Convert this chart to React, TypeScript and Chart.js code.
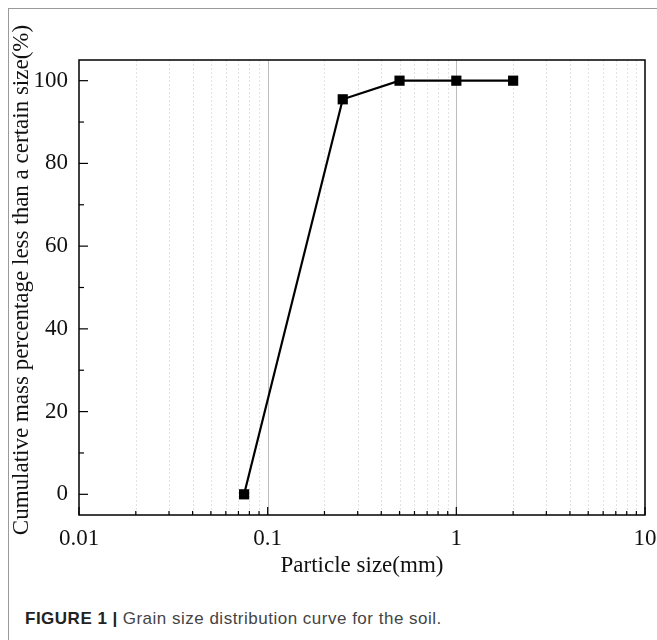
import React, { useEffect, useRef } from "react";
import { Chart, registerables } from "chart.js";

Chart.register(...registerables);

// ---- data ----
const particleSizes = [0.075, 0.25, 0.5, 1, 2];
const cumulativePercent = [0, 95.5, 100, 100, 100];

// ---- axes ----
const xMajorTicks = [0.01, 0.1, 1, 10];
const xTickLabels = ["0.01", "0.1", "1", "10"];
const xMinorMultipliers = [2, 3, 4, 5, 6, 7, 8, 9];
const yMajorTicks = [0, 20, 40, 60, 80, 100];
const yMinorTicks = [10, 30, 50, 70, 90];
const xTitle = "Particle size(mm)";
const yTitle = "Cumulative mass percentage less than a certain size(%)";

const SERIF = '"Times New Roman", "Liberation Serif", serif';

function allXTicks(): number[] {
  const out: number[] = [];
  for (let i = 0; i < xMajorTicks.length; i++) {
    out.push(xMajorTicks[i]);
    if (i < xMajorTicks.length - 1) {
      for (const m of xMinorMultipliers) out.push(+(xMajorTicks[i] * m).toPrecision(6));
    }
  }
  return out;
}

const framePlugin = {
  id: "originFrame",
  beforeDatasetsDraw(chart: any) {
    const { ctx, chartArea: a, scales } = chart;
    const xs = scales.x;
    ctx.save();
    for (const v of allXTicks()) {
      const px = Math.round(xs.getPixelForValue(v)) + 0.5;
      if (px <= a.left + 1 || px >= a.right - 1) continue;
      const major = xMajorTicks.includes(v);
      ctx.beginPath();
      ctx.strokeStyle = major ? "#bdbdbd" : "#e2e2e2";
      ctx.lineWidth = 1;
      ctx.setLineDash(major ? [] : [2, 2]);
      ctx.moveTo(px, a.top);
      ctx.lineTo(px, a.bottom);
      ctx.stroke();
    }
    ctx.restore();
  },
  afterDraw(chart: any) {
    const { ctx, chartArea: a, scales } = chart;
    const xs = scales.x;
    const ys = scales.y;
    ctx.save();
    ctx.strokeStyle = "#000";
    ctx.lineWidth = 1.5;
    ctx.setLineDash([]);
    ctx.strokeRect(a.left, a.top, a.right - a.left, a.bottom - a.top);
    ctx.lineWidth = 1.2;
    // x ticks (inward)
    for (const v of allXTicks()) {
      const px = xs.getPixelForValue(v);
      const major = xMajorTicks.includes(v);
      ctx.beginPath();
      ctx.moveTo(px, a.bottom);
      ctx.lineTo(px, a.bottom - (major ? 8 : 4));
      ctx.stroke();
    }
    // y ticks (inward)
    for (const v of yMajorTicks) {
      const py = ys.getPixelForValue(v);
      ctx.beginPath();
      ctx.moveTo(a.left, py);
      ctx.lineTo(a.left + 9, py);
      ctx.stroke();
    }
    for (const v of yMinorTicks) {
      const py = ys.getPixelForValue(v);
      ctx.beginPath();
      ctx.moveTo(a.left, py);
      ctx.lineTo(a.left + 5, py);
      ctx.stroke();
    }
    // axis titles
    ctx.fillStyle = "#111";
    ctx.font = `23px ${SERIF}`;
    ctx.textAlign = "center";
    ctx.textBaseline = "alphabetic";
    ctx.fillText(xTitle, (a.left + a.right) / 2, 563);
    ctx.save();
    ctx.translate(19, 271);
    ctx.rotate(-Math.PI / 2);
    ctx.fillText(yTitle, 0, 0);
    ctx.restore();
    ctx.restore();
  },
};

export default function App() {
  const canvasRef = useRef<HTMLCanvasElement | null>(null);

  useEffect(() => {
    if (!canvasRef.current) return;
    const chart = new Chart(canvasRef.current, {
      type: "line",
      data: {
        datasets: [
          {
            data: particleSizes.map((x, i) => ({ x, y: cumulativePercent[i] })),
            borderColor: "#000",
            backgroundColor: "#000",
            borderWidth: 2.2,
            pointStyle: "rect",
            pointRadius: 7.2,
            pointBorderWidth: 0,
            pointBackgroundColor: "#000",
            tension: 0,
          },
        ],
      },
      options: {
        animation: false,
        responsive: false,
        maintainAspectRatio: false,
        layout: { padding: { top: 51, right: 12, left: 0, bottom: 0 } },
        plugins: { legend: { display: false }, tooltip: { enabled: false } },
        scales: {
          x: {
            type: "logarithmic",
            min: 0.01,
            max: 10,
            afterBuildTicks: (s: any) => {
              s.ticks = allXTicks().map((v) => ({ value: v }));
            },
            afterFit: (s: any) => {
              s.height = 84;
              s.paddingLeft = 0;
              s.paddingRight = 0;
            },
            grid: { display: false, drawTicks: false },
            border: { display: false },
            ticks: {
              autoSkip: false,
              maxRotation: 0,
              padding: 10,
              color: "#111",
              font: { family: SERIF, size: 23 },
              callback: (value: any) => {
                const idx = xMajorTicks.findIndex((m) => Math.abs(m - Number(value)) < 1e-9);
                return idx >= 0 ? xTickLabels[idx] : "";
              },
            },
          },
          y: {
            type: "linear",
            min: -5,
            max: 105,
            afterBuildTicks: (s: any) => {
              s.ticks = yMajorTicks.map((v) => ({ value: v }));
            },
            afterFit: (s: any) => {
              s.width = 70;
              s.paddingTop = 0;
              s.paddingBottom = 0;
            },
            grid: { display: false, drawTicks: false },
            border: { display: false },
            ticks: {
              padding: 11,
              color: "#111",
              font: { family: SERIF, size: 23 },
            },
          },
        },
      },
      plugins: [framePlugin],
    } as any);
    return () => chart.destroy();
  }, []);

  return (
    <div style={{ position: "relative", width: 657, height: 640, overflow: "hidden", background: "#fff" }}>
      <style>{"body{margin:0}"}</style>
      <div
        style={{
          position: "absolute",
          left: 8,
          top: 8,
          width: 649,
          height: 632,
          borderTop: "1px solid #9a9a9a",
          borderLeft: "1px solid #9a9a9a",
          boxSizing: "border-box",
        }}
      />
      <canvas
        ref={canvasRef}
        width={648}
        height={590}
        style={{ position: "absolute", left: 9, top: 9, width: 648, height: 590 }}
      />
      <div
        style={{
          position: "absolute",
          left: 25,
          top: 609,
          fontFamily: 'Arial, "Liberation Sans", sans-serif',
          fontSize: 17,
          letterSpacing: 0.5,
          color: "#444",
          whiteSpace: "nowrap",
        }}
      >
        <span style={{ fontWeight: "bold", color: "#222" }}>FIGURE 1</span>
        <span style={{ fontWeight: "bold", color: "#222", margin: "0 5px" }}>|</span>
        <span>Grain size distribution curve for the soil.</span>
      </div>
    </div>
  );
}
